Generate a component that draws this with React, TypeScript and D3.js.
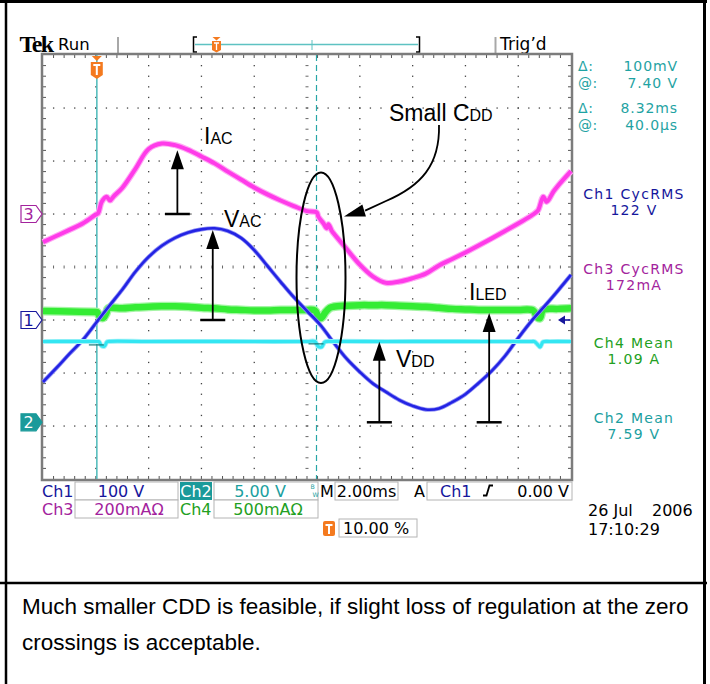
import React from "react";
import * as d3 from "d3";

type Pt = [number, number]; // [time in ms relative to trigger, value in channel units]

// Ch1: line voltage V_AC (volts)
const ch1Trace: Pt[] = [
  [-2.0, -117], [-1.5, -91], [-1.0, -64], [-0.5, -38], [0.0, -6], [0.5, 26], [1.0, 57], [1.5, 91],
  [2.0, 119], [2.5, 140], [3.0, 155], [3.5, 165], [4.0, 171], [4.5, 173], [5.0, 168], [5.5, 155],
  [6.0, 132], [6.5, 102], [7.0, 72], [7.5, 43], [8.0, 17], [8.5, -9], [9.0, -42], [9.5, -73],
  [10.0, -98], [10.5, -120], [11.0, -136], [11.5, -151], [12.0, -162], [12.5, -169], [13.0, -167],
  [13.5, -155], [14.0, -140], [14.5, -119], [15.0, -96], [15.5, -68], [16.0, -34], [16.5, -2],
  [17.0, 26], [17.5, 55], [18.0, 85],
];

// Ch2: V_DD supply (volts)
const ch2Trace: Pt[] = [
  [-2.0, 7.62], [-1.0, 7.63], [0.0, 7.62], [0.12, 7.6], [0.22, 7.2], [0.33, 7.18], [0.42, 7.58],
  [0.5, 7.63], [2.0, 7.62], [4.0, 7.63], [6.0, 7.62], [8.0, 7.62], [8.3, 7.62], [8.42, 7.16],
  [8.55, 7.1], [8.68, 7.58], [9.0, 7.63], [11.0, 7.62], [13.0, 7.63], [15.0, 7.62], [16.5, 7.62],
  [16.61, 7.62], [16.72, 7.38], [16.83, 7.1], [16.94, 7.58], [17.2, 7.62], [18.0, 7.62],
];

// Ch3: line current I_AC (mA)
const ch3Trace: Pt[] = [
  [-2.0, -106], [-1.5, -83], [-1.0, -60], [-0.5, -36], [0.0, -2], [0.09, 3], [0.22, 45], [0.41, 65],
  [0.54, 51], [0.67, 66], [1.0, 98], [1.5, 170], [2.0, 245], [2.5, 266], [3.0, 260], [3.5, 242],
  [4.0, 217], [4.5, 191], [5.0, 160], [5.5, 130], [6.0, 100], [6.5, 74], [7.0, 51], [7.5, 30],
  [8.0, 11], [8.37, 6], [8.43, -10], [8.62, -35], [8.75, -54], [8.81, -39], [8.94, -64], [9.0, -72],
  [9.5, -132], [10.0, -191], [10.5, -236], [11.0, -260], [11.5, -255], [12.0, -242], [12.5, -225],
  [13.0, -194], [13.5, -170], [14.0, -145], [14.5, -119], [15.0, -92], [15.5, -64], [16.0, -36],
  [16.5, -6], [16.63, 3], [16.76, 15], [16.95, 65], [17.08, 46], [17.33, 84], [17.5, 106], [18.0, 162],
];

// Ch4: LED current I_LED (amps)
const ch4Trace: Pt[] = [
  [-2.0, 1.05], [-1.0, 1.045], [0.0, 1.04], [0.05, 1.04], [0.15, 0.995], [0.28, 0.985], [0.4, 1.03],
  [0.47, 1.075], [1.0, 1.075], [1.5, 1.085], [2.0, 1.09], [2.5, 1.095], [3.0, 1.095], [3.5, 1.09],
  [4.0, 1.08], [4.5, 1.075], [5.0, 1.065], [5.5, 1.06], [6.0, 1.055], [6.5, 1.055], [7.0, 1.06],
  [7.5, 1.06], [8.0, 1.06], [8.3, 1.055], [8.45, 0.99], [8.55, 0.985], [8.7, 1.04], [8.87, 1.08],
  [9.0, 1.09], [9.5, 1.1], [10.0, 1.105], [10.5, 1.105], [11.0, 1.105], [11.5, 1.1], [12.0, 1.095],
  [12.5, 1.09], [13.0, 1.08], [13.5, 1.07], [14.0, 1.065], [14.5, 1.06], [15.0, 1.06], [15.5, 1.06],
  [16.0, 1.06], [16.57, 1.055], [16.72, 0.99], [16.82, 0.982], [16.95, 1.06], [17.5, 1.07], [18.0, 1.075],
];

// Vertical settings: units per division and ground position (divisions from centre)
const ch1Setup = { vPerDiv: 100, position: -1 };
const ch2Setup = { vPerDiv: 5, position: -2.93 };
const ch3Setup = { vPerDiv: 200, position: 1 };
const ch4Setup = { vPerDiv: 0.5, position: -2.93 };

// Time base
const timeWindow: [number, number] = [-2, 18];
const cursorTimes = [0.04, 8.36];
const cursorLevels = [7.3, 7.4]; // Ch2 H-bar levels at each cursor

const cursorKeys = ["Δ:", "@:", "Δ:", "@:"];
const cursorValues = ["100mV", "7.40 V", "8.32ms", "40.0µs"];

const measurements = [
  { name: "Ch1 CycRMS", value: "122 V", color: "#16169c" },
  { name: "Ch3 CycRMS", value: "172mA", color: "#a3239d" },
  { name: "Ch4 Mean", value: "1.09 A", color: "#22a022" },
  { name: "Ch2 Mean", value: "7.59 V", color: "#1ba0a0" },
];

const captionLines = [
  "Much smaller CDD is feasible, if slight loss of regulation at the zero",
  "crossings is acceptable.",
];

const PLOT = { left: 43, right: 571, top: 55, bottom: 479 };
const HDIV = 10;
const VDIV = 8;
const SCOPE_FONT = "DejaVu Sans";
const LABEL_FONT = "Liberation Sans";
const TEAL = "#1fa3a3";

const xScale = d3.scaleLinear().domain(timeWindow).range([PLOT.left, PLOT.right]);
const yFor = (s: { vPerDiv: number; position: number }) =>
  d3
    .scaleLinear()
    .domain([(-VDIV / 2 - s.position) * s.vPerDiv, (VDIV / 2 - s.position) * s.vPerDiv])
    .range([PLOT.bottom, PLOT.top]);

const y1 = yFor(ch1Setup);
const y2 = yFor(ch2Setup);
const y3 = yFor(ch3Setup);
const y4 = yFor(ch4Setup);

const pathFor = (data: Pt[], y: d3.ScaleLinear<number, number>) =>
  d3
    .line<Pt>()
    .x((d) => xScale(d[0]))
    .y((d) => y(d[1]))
    .curve(d3.curveCatmullRom.alpha(0.5))(data) || "";

const traces = [
  { d: pathFor(ch4Trace, y4), core: "#34ec34", halo: "#a4f5a4", w: 6.5, hw: 9 },
  { d: pathFor(ch1Trace, y1), core: "#2323e4", halo: "#9090f4", w: 2.6, hw: 4.2 },
  { d: pathFor(ch2Trace, y2), core: "#33e6f2", halo: "#a8f2f8", w: 3.2, hw: 5 },
  { d: pathFor(ch3Trace, y3), core: "#ff3be9", halo: "#ffa8f4", w: 4, hw: 6.2 },
];

const arrowNotes = [
  { t: 3.09, y: y3, from: 0, to: 241 },
  { t: 4.43, y: y1, from: 0, to: 170 },
  { t: 10.74, y: y2, from: 0, to: 7.6 },
  { t: 14.9, y: y4, from: 0, to: 1.03 },
];

function Graticule() {
  const w = PLOT.right - PLOT.left;
  const h = PLOT.bottom - PLOT.top;
  const mx = w / (HDIV * 5);
  const my = h / (VDIV * 5);
  const dots: JSX.Element[] = [];
  for (let i = 1; i < HDIV; i++) {
    const x = PLOT.left + (i * w) / HDIV;
    for (let k = 1; k < VDIV * 5; k++) {
      const y = PLOT.top + k * my;
      if (i === HDIV / 2) {
        dots.push(<line key={`cv${k}`} x1={x - 1.5} x2={x + 1.5} y1={y} y2={y} stroke="#666" strokeWidth={1} />);
      } else {
        dots.push(<rect key={`v${i}-${k}`} x={x - 0.6} y={y - 0.6} width={1.3} height={1.3} fill="#444" />);
      }
    }
  }
  for (let j = 1; j < VDIV; j++) {
    const y = PLOT.top + (j * h) / VDIV;
    for (let k = 1; k < HDIV * 5; k++) {
      const x = PLOT.left + k * mx;
      if (j === VDIV / 2) {
        dots.push(<line key={`ch${k}`} x1={x} x2={x} y1={y - 1.5} y2={y + 1.5} stroke="#666" strokeWidth={1} />);
      } else {
        dots.push(<rect key={`h${j}-${k}`} x={x - 0.6} y={y - 0.6} width={1.3} height={1.3} fill="#444" />);
      }
    }
  }
  const ticks: JSX.Element[] = [];
  for (let k = 1; k < HDIV * 5; k++) {
    const x = PLOT.left + k * mx;
    ticks.push(<line key={`tt${k}`} x1={x} x2={x} y1={PLOT.top} y2={PLOT.top + 3} stroke="#555" />);
    ticks.push(<line key={`tb${k}`} x1={x} x2={x} y1={PLOT.bottom - 3} y2={PLOT.bottom} stroke="#555" />);
  }
  for (let k = 1; k < VDIV * 5; k++) {
    const y = PLOT.top + k * my;
    ticks.push(<line key={`tl${k}`} x1={PLOT.left} x2={PLOT.left + 3} y1={y} y2={y} stroke="#555" />);
    ticks.push(<line key={`tr${k}`} x1={PLOT.right - 3} x2={PLOT.right} y1={y} y2={y} stroke="#555" />);
  }
  return (
    <g>
      {dots}
      {ticks}
    </g>
  );
}

function GroundMarker({ y, label, color, filled }: { y: number; label: string; color: string; filled?: boolean }) {
  const d = `M21,${y - 8.5} H36 L42,${y} L36,${y + 8.5} H21 Z`;
  return (
    <g>
      <path d={d} fill={filled ? color : "#fff"} stroke={color} strokeWidth={1.2} />
      <text x={28.5} y={y + 6} textAnchor="middle" fontFamily={SCOPE_FONT} fontSize={16} fill={filled ? "#fff" : color}>
        {label}
      </text>
    </g>
  );
}

function TriggerFlag({ x, top }: { x: number; top: number }) {
  return (
    <g>
      <path d={`M${x - 5},${top + 1} H${x + 5} L${x},${top + 6} Z`} fill="#f47a1f" />
      <path
        d={`M${x - 6},${top + 7} H${x + 6} V${top + 20} L${x},${top + 24} L${x - 6},${top + 20} Z`}
        fill="#f47a1f"
      />
      <path d={`M${x - 3.5},${top + 10} H${x + 3.5} M${x},${top + 10} V${top + 20}`} stroke="#fff" strokeWidth={2} />
    </g>
  );
}

function Arrow({ x, yFrom, yTo }: { x: number; yFrom: number; yTo: number }) {
  const headLen = 19;
  const half = 6.5;
  return (
    <g>
      <line x1={x - 12.5} x2={x + 12.5} y1={yFrom} y2={yFrom} stroke="#000" strokeWidth={2.5} />
      <line x1={x} x2={x} y1={yFrom} y2={yTo + headLen - 1} stroke="#000" strokeWidth={1.8} />
      <path d={`M${x},${yTo} L${x + half},${yTo + headLen} L${x - half},${yTo + headLen} Z`} fill="#000" />
    </g>
  );
}

function SubLabel({ x, y, main, sub }: { x: number; y: number; main: string; sub: string }) {
  return (
    <text x={x} y={y} fontFamily={LABEL_FONT} fill="#000">
      <tspan fontSize={23}>{main}</tspan>
      <tspan fontSize={16}>{sub}</tspan>
    </text>
  );
}

function Box({ x, y, w, h }: { x: number; y: number; w: number; h: number }) {
  return <rect x={x} y={y} width={w} height={h} fill="#fff" stroke="#b4b4b4" strokeWidth={1} />;
}

export default function App() {
  const cx1 = xScale(cursorTimes[0]);
  const cx2 = xScale(cursorTimes[1]);
  const trigX = xScale(0);
  const gnd1 = y1(0);
  const gnd2 = y2(0);
  const gnd3 = y3(0);

  // curved pointer from the "Small CDD" label to the ellipse
  const tip: Pt = [344, 216.5];
  const dir = [-0.959, 0.283];
  const hl = 21;
  const bx = tip[0] - dir[0] * hl;
  const by = tip[1] - dir[1] * hl;
  const px = -dir[1] * 6.3;
  const py = dir[0] * 6.3;

  const rowY = [482, 500, 519];
  const rowBase = [496.5, 514.5, 533.5];
  const readoutBase = [71, 87.5, 113, 129.5];

  return (
    <svg width={710} height={684} style={{ position: "absolute", left: 0, top: 0, background: "#fff" }}>
      <rect x={0} y={0} width={710} height={684} fill="#fff" />

      {/* page frame */}
      <line x1={0} x2={707} y1={1.5} y2={1.5} stroke="#000" strokeWidth={3} />
      <line x1={6} x2={6} y1={0} y2={684} stroke="#000" strokeWidth={2.5} />
      <line x1={704.5} x2={704.5} y1={0} y2={684} stroke="#000" strokeWidth={3} />
      <line x1={0} x2={707} y1={583} y2={583} stroke="#000" strokeWidth={2.5} />

      {/* status bar */}
      <text x={19.5} y={51.5} fontFamily="Liberation Serif" fontWeight="bold" fontSize={24} letterSpacing={-1.6} fill="#000">
        Tek
      </text>
      <text x={58} y={50} fontFamily={SCOPE_FONT} fontSize={16.5} fill="#000">
        Run
      </text>
      <line x1={118} x2={118} y1={37} y2={54} stroke="#a8a8a8" strokeWidth={2} />
      <line x1={495.5} x2={495.5} y1={37} y2={54} stroke="#a8a8a8" strokeWidth={2} />
      <path d="M197,37 H193.5 V52 H197" fill="none" stroke="#000" strokeWidth={1.5} />
      <path d="M416,37 H419.5 V52 H416" fill="none" stroke="#000" strokeWidth={1.5} />
      <line x1={195} x2={418} y1={44.5} y2={44.5} stroke="#5ec2c2" strokeWidth={1.5} />
      <line x1={312} x2={312} y1={40} y2={50} stroke="#5ec2c2" strokeWidth={1} />
      <path d="M212.5,37 H220.5 L216.5,40.5 Z" fill="#f47a1f" />
      <path d="M212,41 H221 V50 L216.5,52.5 L212,50 Z" fill="#f47a1f" />
      <path d="M214,43 H219 M216.5,43 V50" stroke="#fff" strokeWidth={1.3} />
      <text x={500} y={50} fontFamily={SCOPE_FONT} fontSize={17} fill="#000">
        Trig’d
      </text>

      {/* graticule */}
      <Graticule />
      <rect
        x={PLOT.left - 1}
        y={PLOT.top - 1}
        width={PLOT.right - PLOT.left + 2}
        height={PLOT.bottom - PLOT.top + 2}
        fill="none"
        stroke="#7c7c7c"
        strokeWidth={2.5}
      />

      {/* time cursors */}
      <line x1={cx1} x2={cx1} y1={PLOT.top} y2={PLOT.bottom} stroke="#4cb9b9" strokeWidth={1.5} />
      <line x1={cx2} x2={cx2} y1={PLOT.top} y2={PLOT.bottom} stroke="#27a6a6" strokeWidth={1.2} strokeDasharray="6 4" />

      {/* waveforms */}
      {traces.map((t, i) => (
        <g key={i}>
          <path d={t.d} fill="none" stroke={t.halo} strokeWidth={t.hw} strokeLinejoin="round" />
          <path d={t.d} fill="none" stroke={t.core} strokeWidth={t.w} strokeLinejoin="round" />
        </g>
      ))}

      {/* paired cursor level marks on Ch2 */}
      {cursorTimes.map((t, i) => (
        <line
          key={i}
          x1={xScale(t) - 8}
          x2={xScale(t) + 7}
          y1={y2(cursorLevels[i])}
          y2={y2(cursorLevels[i])}
          stroke="#187a7a"
          strokeWidth={1.2}
        />
      ))}

      {/* trigger position and level */}
      <TriggerFlag x={trigX + 1} top={55} />
      <path d={`M558,${gnd1} L565,${gnd1 - 4.5} L565,${gnd1 + 4.5} Z`} fill="#16169c" />
      <line x1={564} x2={570} y1={gnd1} y2={gnd1} stroke="#16169c" strokeWidth={1.6} />

      {/* channel ground markers */}
      <GroundMarker y={gnd3} label="3" color="#a3239d" />
      <GroundMarker y={gnd1} label="1" color="#16169c" />
      <GroundMarker y={gnd2} label="2" color="#1a9a9a" filled />

      {/* annotations */}
      {arrowNotes.map((a, i) => (
        <Arrow key={i} x={xScale(a.t)} yFrom={a.y(a.from)} yTo={a.y(a.to)} />
      ))}
      <SubLabel x={204} y={144} main="I" sub="AC" />
      <SubLabel x={224} y={227} main="V" sub="AC" />
      <SubLabel x={469} y={300} main="I" sub="LED" />
      <SubLabel x={396} y={367} main="V" sub="DD" />
      <text x={389} y={121} fontFamily={LABEL_FONT} fill="#000">
        <tspan fontSize={23}>Small C</tspan>
        <tspan fontSize={16}>DD</tspan>
      </text>
      <ellipse cx={321} cy={277.7} rx={24.5} ry={105.3} fill="none" stroke="#000" strokeWidth={2} />
      <path d={`M439,125 C440,165 421,186 386,201 L${bx + 1},${by}`} fill="none" stroke="#000" strokeWidth={1.8} />
      <path d={`M${tip[0]},${tip[1]} L${bx + px},${by + py} L${bx - px},${by - py} Z`} fill="#000" />

      {/* cursor readouts */}
      <g fontFamily={SCOPE_FONT} fontSize={14} fill={TEAL}>
        {cursorKeys.map((k, i) => (
          <text key={`k${i}`} x={578} y={readoutBase[i]} letterSpacing={0.6}>
            {k}
          </text>
        ))}
        {cursorValues.map((v, i) => (
          <text key={`v${i}`} x={678} y={readoutBase[i]} textAnchor="end" letterSpacing={0.9}>
            {v}
          </text>
        ))}
      </g>

      {/* measurements */}
      {measurements.map((m, i) => {
        const base = [198.5, 198.5 + 75, 198.5 + 149, 198.5 + 224][i];
        return (
          <g key={m.name} fontFamily={SCOPE_FONT} fontSize={14} fill={m.color} textAnchor="middle" letterSpacing={1.3}>
            <text x={634} y={base}>{m.name}</text>
            <text x={634} y={base + 16.5}>{m.value}</text>
          </g>
        );
      })}

      {/* channel / timebase settings */}
      <g fontFamily={SCOPE_FONT} fontSize={16}>
        <text x={42} y={rowBase[0]} fill="#16169c">Ch1</text>
        <Box x={75} y={rowY[0]} w={103} h={18} />
        <text x={121} y={rowBase[0]} fill="#16169c" textAnchor="middle">100 V</text>
        <rect x={180} y={rowY[0]} width={32} height={18} fill="#1a9a9a" />
        <text x={196} y={rowBase[0]} fill="#fff" textAnchor="middle">Ch2</text>
        <Box x={214} y={rowY[0]} w={104} h={18} />
        <text x={260} y={rowBase[0]} fill="#1ba0a0" textAnchor="middle">5.00 V</text>
        <text x={310.5} y={rowY[0] + 7} fontSize={6.2} fill="#1ba0a0">B</text>
        <text x={312.5} y={rowY[0] + 14.5} fontSize={6.2} fill="#1ba0a0">W</text>
        <text x={320} y={rowBase[0]} fill="#000">M</text>
        <Box x={335} y={rowY[0]} w={63} h={18} />
        <text x={366.5} y={rowBase[0]} fill="#000" textAnchor="middle">2.00ms</text>
        <text x={414} y={rowBase[0]} fill="#000">A</text>
        <Box x={427} y={rowY[0]} w={145} h={18} />
        <text x={440} y={rowBase[0]} fill="#16169c">Ch1</text>
        <path
          d={`M483,${rowBase[0] - 1} H486.5 L489.5,${rowBase[0] - 11} H493`}
          fill="none"
          stroke="#000"
          strokeWidth={1.8}
        />
        <text x={569} y={rowBase[0]} fill="#000" textAnchor="end">0.00 V</text>

        <text x={42} y={rowBase[1]} fill="#a3239d">Ch3</text>
        <Box x={75} y={rowY[1]} w={103} h={18} />
        <text x={129} y={rowBase[1]} fill="#a3239d" textAnchor="middle">200mAΩ</text>
        <text x={180} y={rowBase[1]} fill="#22a022">Ch4</text>
        <Box x={214} y={rowY[1]} w={104} h={18} />
        <text x={268} y={rowBase[1]} fill="#22a022" textAnchor="middle">500mAΩ</text>

        <rect x={323} y={rowY[2] + 2} width={12} height={15} rx={2} fill="#f47a1f" />
        <path d={`M325.5,${rowY[2] + 6} H332.5 M329,${rowY[2] + 6} V${rowY[2] + 15}`} stroke="#fff" strokeWidth={2} />
        <Box x={339} y={rowY[2]} w={78} h={18} />
        <text x={343} y={rowBase[2]} fill="#000">10.00 %</text>

        <text x={588} y={516} fill="#000">26 Jul</text>
        <text x={652} y={516} fill="#000">2006</text>
        <text x={588} y={534.5} fill="#000">17:10:29</text>
      </g>

      {/* caption */}
      {captionLines.map((line, i) => (
        <text key={i} x={22} y={614 + i * 36} fontFamily={LABEL_FONT} fontSize={22.5} fill="#000">
          {line}
        </text>
      ))}
    </svg>
  );
}
